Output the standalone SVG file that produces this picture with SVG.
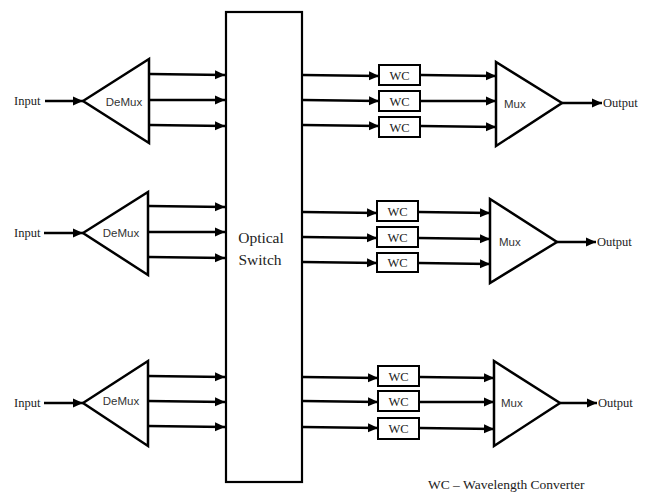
<svg xmlns="http://www.w3.org/2000/svg" width="645" height="498" viewBox="0 0 645 498">
<style>
.ln{stroke:#000;stroke-width:2.5;fill:none}
.tri{stroke:#000;stroke-width:2.5;fill:#fff;stroke-linejoin:miter}
.box{stroke:#000;stroke-width:2;fill:#fff}
.sans{font-family:'Liberation Sans', Arial, sans-serif;fill:#333}
</style>
<defs>
<marker id="ah" markerUnits="userSpaceOnUse" markerWidth="10" markerHeight="10" refX="10" refY="5" orient="auto" viewBox="0 0 10 10">
<path d="M0,0.5 L10,5 L0,9.5 z" fill="#000"/>
</marker>
</defs>

<g id="switch">
<rect x="226" y="12" width="76" height="470" fill="#fff" stroke="#000" stroke-width="2.2"/>
<text font-family="'Liberation Serif', 'DejaVu Serif', serif" fill="#222" x="261" y="243" font-size="15.5" text-anchor="middle">Optical</text>
<text font-family="'Liberation Serif', 'DejaVu Serif', serif" fill="#222" x="260" y="265" font-size="15.5" text-anchor="middle">Switch</text>
</g>

<g id="connectors">
<line class="ln" x1="45" y1="101" x2="83" y2="101" marker-end="url(#ah)"/>
<line class="ln" x1="150" y1="74" x2="225" y2="75" marker-end="url(#ah)"/>
<line class="ln" x1="150" y1="100" x2="225" y2="100" marker-end="url(#ah)"/>
<line class="ln" x1="150" y1="125" x2="225" y2="126" marker-end="url(#ah)"/>
<line class="ln" x1="303" y1="75" x2="379" y2="76" marker-end="url(#ah)"/>
<line class="ln" x1="303" y1="100" x2="379" y2="101" marker-end="url(#ah)"/>
<line class="ln" x1="303" y1="125" x2="379" y2="126" marker-end="url(#ah)"/>
<line class="ln" x1="421" y1="75" x2="496" y2="76" marker-end="url(#ah)"/>
<line class="ln" x1="421" y1="101" x2="496" y2="101" marker-end="url(#ah)"/>
<line class="ln" x1="421" y1="126" x2="496" y2="127" marker-end="url(#ah)"/>
<line class="ln" x1="562" y1="103" x2="602" y2="103" marker-end="url(#ah)"/>
<line class="ln" x1="44" y1="233" x2="83" y2="233" marker-end="url(#ah)"/>
<line class="ln" x1="149" y1="206" x2="225" y2="207" marker-end="url(#ah)"/>
<line class="ln" x1="149" y1="232" x2="225" y2="232" marker-end="url(#ah)"/>
<line class="ln" x1="149" y1="257" x2="225" y2="258" marker-end="url(#ah)"/>
<line class="ln" x1="303" y1="212" x2="377" y2="213" marker-end="url(#ah)"/>
<line class="ln" x1="303" y1="237" x2="377" y2="238" marker-end="url(#ah)"/>
<line class="ln" x1="303" y1="262" x2="377" y2="263" marker-end="url(#ah)"/>
<line class="ln" x1="419" y1="212" x2="490" y2="213" marker-end="url(#ah)"/>
<line class="ln" x1="419" y1="238" x2="490" y2="239" marker-end="url(#ah)"/>
<line class="ln" x1="419" y1="263" x2="490" y2="264" marker-end="url(#ah)"/>
<line class="ln" x1="557" y1="242" x2="596" y2="242" marker-end="url(#ah)"/>
<line class="ln" x1="44" y1="403" x2="83" y2="403" marker-end="url(#ah)"/>
<line class="ln" x1="148" y1="376" x2="225" y2="377" marker-end="url(#ah)"/>
<line class="ln" x1="148" y1="401" x2="225" y2="402" marker-end="url(#ah)"/>
<line class="ln" x1="148" y1="426" x2="225" y2="427" marker-end="url(#ah)"/>
<line class="ln" x1="303" y1="377" x2="378" y2="378" marker-end="url(#ah)"/>
<line class="ln" x1="303" y1="401" x2="378" y2="402" marker-end="url(#ah)"/>
<line class="ln" x1="303" y1="427" x2="378" y2="428" marker-end="url(#ah)"/>
<line class="ln" x1="420" y1="377" x2="494" y2="378" marker-end="url(#ah)"/>
<line class="ln" x1="420" y1="402" x2="494" y2="402" marker-end="url(#ah)"/>
<line class="ln" x1="420" y1="428" x2="494" y2="429" marker-end="url(#ah)"/>
<line class="ln" x1="560" y1="403" x2="597" y2="403" marker-end="url(#ah)"/>
</g>

<g font-family="'Liberation Serif', 'DejaVu Serif', serif" fill="#222" font-size="12.5">
<g id="input1"><text x="14" y="105">Input</text></g>
<g id="input2"><text x="14" y="237">Input</text></g>
<g id="input3"><text x="14" y="407">Input</text></g>
</g>

<g id="demux1">
<polygon class="tri" points="83,101 149,59 149,143"/>
<text class="sans" x="124" y="106" font-size="11.5" text-anchor="middle">DeMux</text>
</g>
<g id="demux2">
<polygon class="tri" points="83,233 148,192 148,275"/>
<text class="sans" x="121" y="237" font-size="11.5" text-anchor="middle">DeMux</text>
</g>
<g id="demux3">
<polygon class="tri" points="83,403 148,361 148,446"/>
<text class="sans" x="121" y="405" font-size="11.5" text-anchor="middle">DeMux</text>
</g>

<g font-family="'Liberation Serif', 'DejaVu Serif', serif" fill="#222" font-size="12.5" text-anchor="middle">
<g id="wc1a"><rect class="box" x="379" y="65" width="41" height="20"/><text x="399.5" y="80">WC</text></g>
<g id="wc1b"><rect class="box" x="379" y="91" width="41" height="20"/><text x="399.5" y="106">WC</text></g>
<g id="wc1c"><rect class="box" x="379" y="117" width="41" height="20"/><text x="399.5" y="132">WC</text></g>
<g id="wc2a"><rect class="box" x="377" y="201" width="41" height="20"/><text x="397.5" y="216">WC</text></g>
<g id="wc2b"><rect class="box" x="377" y="227" width="41" height="20"/><text x="397.5" y="242">WC</text></g>
<g id="wc2c"><rect class="box" x="377" y="253" width="41" height="19"/><text x="397.5" y="267">WC</text></g>
<g id="wc3a"><rect class="box" x="378" y="366" width="41" height="20"/><text x="398.5" y="381">WC</text></g>
<g id="wc3b"><rect class="box" x="378" y="391" width="41" height="20"/><text x="398.5" y="406">WC</text></g>
<g id="wc3c"><rect class="box" x="378" y="418" width="41" height="21"/><text x="398.5" y="433">WC</text></g>
</g>

<g id="mux1">
<polygon class="tri" points="496,62 496,146 562,103"/>
<text class="sans" x="504" y="108" font-size="11.5">Mux</text>
</g>
<g id="mux2">
<polygon class="tri" points="490,199 490,283 557,242"/>
<text class="sans" x="499" y="246" font-size="11.5">Mux</text>
</g>
<g id="mux3">
<polygon class="tri" points="494,361 494,446 560,403"/>
<text class="sans" x="501" y="407" font-size="11.5">Mux</text>
</g>

<g font-family="'Liberation Serif', 'DejaVu Serif', serif" fill="#222" font-size="12.5">
<g id="output1"><text x="603" y="107">Output</text></g>
<g id="output2"><text x="597" y="246">Output</text></g>
<g id="output3"><text x="598" y="407">Output</text></g>
<g id="legend"><text x="428" y="489" font-size="13.5">WC – Wavelength Converter</text></g>
</g>
</svg>
